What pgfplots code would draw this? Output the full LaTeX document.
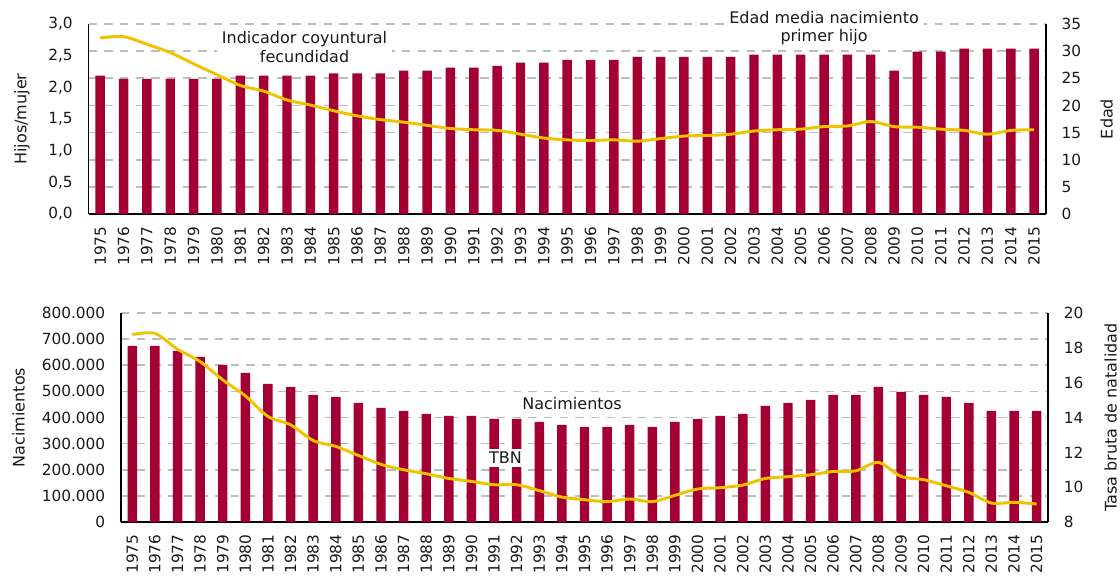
\documentclass[border=0pt]{standalone}
\usepackage{fontspec}
\setmainfont{DejaVu Sans}
\usepackage{pgfplots}
\usepackage{pgfplotstable}
\pgfplotsset{compat=1.18}
\definecolor{barred}{HTML}{A50034}
\definecolor{lineyel}{HTML}{F2C200}
\definecolor{gridgray}{HTML}{BDBDBD}
\definecolor{txt}{HTML}{1A1A1A}

\pgfplotstableread{
year edad
1975 25.5
1976 24.9
1977 24.9
1978 24.9
1979 24.9
1980 24.9
1981 25.5
1982 25.5
1983 25.5
1984 25.5
1985 25.9
1986 25.9
1987 25.9
1988 26.4
1989 26.4
1990 26.95
1991 26.95
1992 27.3
1993 27.9
1994 27.9
1995 28.4
1996 28.4
1997 28.4
1998 28.95
1999 28.95
2000 28.95
2001 28.95
2002 28.95
2003 29.35
2004 29.35
2005 29.35
2006 29.35
2007 29.35
2008 29.35
2009 26.4
2010 29.9
2011 29.9
2012 30.45
2013 30.45
2014 30.45
2015 30.45
}\edadtab

\pgfplotstableread{
year icf
1975 2.78
1976 2.80
1977 2.68
1978 2.55
1979 2.37
1980 2.20
1981 2.03
1982 1.94
1983 1.80
1984 1.72
1985 1.63
1986 1.55
1987 1.49
1988 1.45
1989 1.40
1990 1.35
1991 1.33
1992 1.32
1993 1.26
1994 1.20
1995 1.17
1996 1.16
1997 1.17
1998 1.15
1999 1.19
2000 1.23
2001 1.24
2002 1.26
2003 1.31
2004 1.33
2005 1.34
2006 1.38
2007 1.39
2008 1.46
2009 1.38
2010 1.37
2011 1.34
2012 1.32
2013 1.26
2014 1.32
2015 1.33
}\icftab

\pgfplotstableread{
year nac
1975 674000
1976 674000
1977 655000
1978 632000
1979 601000
1980 571000
1981 529000
1982 517000
1983 487000
1984 479000
1985 456000
1986 437000
1987 425500
1988 414000
1989 406000
1990 406000
1991 395000
1992 395000
1993 383500
1994 372000
1995 364000
1996 364000
1997 372000
1998 364000
1999 383500
2000 395000
2001 406000
2002 414000
2003 444500
2004 456000
2005 467500
2006 486500
2007 486500
2008 517000
2009 498000
2010 486500
2011 479000
2012 456000
2013 425500
2014 425500
2015 425500
}\nactab

\pgfplotstableread{
year tbn
1975 18.76
1976 18.83
1977 17.92
1978 17.21
1979 16.16
1980 15.24
1981 14.06
1982 13.58
1983 12.68
1984 12.34
1985 11.82
1986 11.31
1987 11.00
1988 10.77
1989 10.50
1990 10.33
1991 10.14
1992 10.14
1993 9.80
1994 9.43
1995 9.28
1996 9.17
1997 9.32
1998 9.17
1999 9.53
2000 9.89
2001 9.97
2002 10.12
2003 10.50
2004 10.60
2005 10.71
2006 10.90
2007 10.94
2008 11.42
2009 10.62
2010 10.43
2011 10.08
2012 9.70
2013 9.09
2014 9.13
2015 9.03
}\tbntab

\pgfplotsset{
  base/.style={
    scale only axis,
    xmin=1974.5, xmax=2015.5,
    xtick={1975,...,2015},
    major tick length=0pt,
    axis line style={-, line width=1pt, black},
    /pgf/number format/assume math mode=true,
    ticklabel style={font=\fontsize{11.5}{13}\selectfont, text=txt},
    scaled y ticks=false,
    grid style={gridgray, line width=1.3pt, dash pattern=on 6.25pt off 5.5pt},
    x tick label style={yshift=-6pt, rotate=90, anchor=east, /pgf/number format/1000 sep={}},
  },
  lefty/.style={axis y line*=left, y tick label style={xshift=-8.3pt}},
  righty/.style={axis y line*=right, y tick label style={xshift=8.3pt}},
}

\begin{document}
\begin{tikzpicture}
\path[use as bounding box] (0,0) rectangle (840pt,433.5pt);

% ---------- Top panel: bars (Edad, right axis)
\begin{axis}[base, righty,
  at={(66.4pt,273pt)}, anchor=south west, width=718pt, height=142.5pt,
  axis x line*=bottom,
  ymin=0, ymax=35, ytick={0,5,...,35},
  ymajorgrids]
  \addplot[ybar, bar width=7.1pt, fill=barred, draw=none] table[x=year,y=edad] {\edadtab};
\end{axis}
% ---------- Top panel: line (ICF, left axis)
\begin{axis}[base, lefty,
  at={(66.4pt,273pt)}, anchor=south west, width=718pt, height=142.5pt,
  axis x line=none, clip=false,
  ymin=0, ymax=3, ytick={0,0.5,...,3},
  y tick label style={/pgf/number format/.cd, fixed, fixed zerofill, precision=1, use comma}]
  \addplot[lineyel, line width=2.2pt, smooth] table[x=year,y=icf] {\icftab};
  \node[fill=white, align=center, text=txt, inner xsep=4pt, inner ysep=1pt,
        font=\fontsize{12}{14}\selectfont] at (axis cs:1983.75,2.64) {Indicador coyuntural\\fecundidad};
  \node[fill=white, align=center, text=txt, inner xsep=4pt, inner ysep=1pt,
        font=\fontsize{12}{14}\selectfont] at (axis cs:2006.0,2.937) {Edad media nacimiento\\primer hijo};
\end{axis}

% ---------- Bottom panel: bars (Nacimientos, left axis)
\begin{axis}[base, lefty,
  at={(90.75pt,42pt)}, anchor=south west, width=695.25pt, height=156.75pt,
  axis x line*=bottom,
  ymin=0, ymax=800000, ytick={0,100000,...,800000},
  y tick label style={/pgf/number format/.cd, fixed, 1000 sep={.}},
  ymajorgrids]
  \addplot[ybar, bar width=7.1pt, fill=barred, draw=none] table[x=year,y=nac] {\nactab};
\end{axis}
% ---------- Bottom panel: line (TBN, right axis)
\begin{axis}[base, righty,
  at={(90.75pt,42pt)}, anchor=south west, width=695.25pt, height=156.75pt,
  axis x line=none, clip=false,
  ymin=8, ymax=20, ytick={8,10,...,20}]
  \addplot[lineyel, line width=2.2pt, smooth] table[x=year,y=tbn] {\tbntab};
  \node[fill=white, text=txt, inner xsep=1pt, inner ysep=2.4pt,
        font=\fontsize{12}{14}\selectfont] at (axis cs:1991.5,11.67) {TBN};
  \node[fill=white, text=txt, inner sep=1pt,
        font=\fontsize{12}{14}\selectfont] at (axis cs:1994.45,14.83) {Nacimientos};
\end{axis}

% ---------- axis titles
\begin{scope}[font=\fontsize{12}{14}\selectfont, text=txt]
\node[rotate=90] at (16.5pt,344.25pt) {Hijos/mujer};
\node[rotate=90] at (830pt,344.25pt) {Edad};
\node[rotate=90] at (14pt,120.4pt) {Nacimientos};
\node[rotate=90] at (833pt,120.4pt) {Tasa bruta de natalidad};
\end{scope}
\end{tikzpicture}
\end{document}
